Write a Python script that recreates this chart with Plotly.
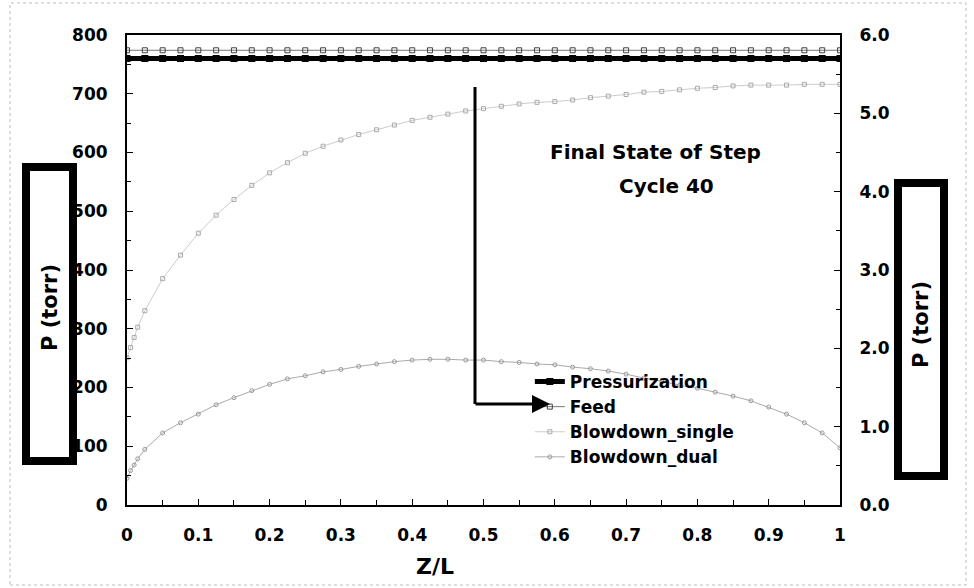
import plotly.graph_objects as go

# ---------------- data ----------------
z_flat = [0.0, 0.025, 0.05, 0.075, 0.1, 0.125, 0.15, 0.175, 0.2, 0.225, 0.25, 0.275, 0.3,
          0.325, 0.35, 0.375, 0.4, 0.425, 0.45, 0.475, 0.5, 0.525, 0.55, 0.575, 0.6, 0.625,
          0.65, 0.675, 0.7, 0.725, 0.75, 0.775, 0.8, 0.825, 0.85, 0.875, 0.9, 0.925, 0.95,
          0.975, 1.0]
pressurization = [760, 760, 760, 760, 760, 760, 760, 760, 760, 760, 760, 760, 760, 760,
                  760, 760, 760, 760, 760, 760, 760, 760, 760, 760, 760, 760, 760, 760,
                  760, 760, 760, 760, 760, 760, 760, 760, 760, 760, 760, 760, 760]
feed = [774, 774, 774, 774, 774, 774, 774, 774, 774, 774, 774, 774, 774, 774,
        774, 774, 774, 774, 774, 774, 774, 774, 774, 774, 774, 774, 774, 774,
        774, 774, 774, 774, 774, 774, 774, 774, 774, 774, 774, 774, 774]

z_bd = [0.0, 0.005, 0.01, 0.015, 0.025, 0.05, 0.075, 0.1, 0.125, 0.15, 0.175, 0.2, 0.225,
        0.25, 0.275, 0.3, 0.325, 0.35, 0.375, 0.4, 0.425, 0.45, 0.475, 0.5, 0.525, 0.55,
        0.575, 0.6, 0.625, 0.65, 0.675, 0.7, 0.725, 0.75, 0.775, 0.8, 0.825, 0.85, 0.875,
        0.9, 0.925, 0.95, 0.975, 1.0]
blowdown_single = [1.88, 2.01, 2.14, 2.27, 2.48, 2.89, 3.19, 3.47, 3.70, 3.90, 4.08, 4.24,
                   4.37, 4.49, 4.58, 4.66, 4.73, 4.79, 4.85, 4.91, 4.95, 4.99, 5.03, 5.06,
                   5.09, 5.12, 5.14, 5.15, 5.17, 5.20, 5.22, 5.24, 5.27, 5.28, 5.30, 5.32,
                   5.33, 5.35, 5.36, 5.36, 5.36, 5.37, 5.37, 5.37]
blowdown_dual = [0.34, 0.44, 0.51, 0.59, 0.71, 0.92, 1.05, 1.16, 1.28, 1.37, 1.46, 1.54,
                 1.61, 1.65, 1.70, 1.73, 1.77, 1.80, 1.83, 1.85, 1.86, 1.86, 1.85, 1.85,
                 1.83, 1.82, 1.80, 1.79, 1.76, 1.74, 1.71, 1.67, 1.62, 1.58, 1.53, 1.49,
                 1.44, 1.39, 1.33, 1.25, 1.16, 1.05, 0.92, 0.73]

left_ticks = [0, 100, 200, 300, 400, 500, 600, 700, 800]
right_ticks = [0, 1, 2, 3, 4, 5, 6]
x_ticks = [0, 0.1, 0.2, 0.3, 0.4, 0.5, 0.6, 0.7, 0.8, 0.9, 1]
x_tick_text = ["0", "0.1", "0.2", "0.3", "0.4", "0.5", "0.6", "0.7", "0.8", "0.9", "1"]

# ---------------- layout geometry ----------------
W, H = 974, 588
ML, MR, MT, MB = 127, 134, 35, 83
PW, PH = W - ML - MR, H - MT - MB
Y_MAX = 800.0


def px(x):
    return (x - ML) / PW


def py(y):
    return (H - MB - y) / PH


FONT = "DejaVu Sans"

fig = go.Figure()
fig.add_trace(go.Scatter(
    x=z_flat, y=pressurization, name="Pressurization", mode="lines+markers",
    line=dict(color="black", width=5),
    marker=dict(symbol="square", size=7, color="black")))
fig.add_trace(go.Scatter(
    x=z_flat, y=feed, name="Feed", mode="lines+markers",
    line=dict(color="#777777", width=1),
    marker=dict(symbol="square-open", size=5, color="#444444", line=dict(width=1))))
fig.add_trace(go.Scatter(
    x=z_bd, y=blowdown_single, name="Blowdown_single", mode="lines+markers", yaxis="y2",
    line=dict(color="#cccccc", width=1),
    marker=dict(symbol="square-open", size=4, color="#aaaaaa", line=dict(width=1))))
fig.add_trace(go.Scatter(
    x=z_bd, y=blowdown_dual, name="Blowdown_dual", mode="lines+markers", yaxis="y2",
    line=dict(color="#aaaaaa", width=1),
    marker=dict(symbol="circle-open", size=4, color="#999999", line=dict(width=1))))

tickfont = dict(family=FONT, size=17, color="black", weight="bold")

fig.update_layout(
    width=W, height=H,
    margin=dict(l=ML, r=MR, t=MT, b=MB, pad=0),
    paper_bgcolor="white", plot_bgcolor="white",
    showlegend=True,
    legend=dict(x=0.565, y=0.30, xanchor="left", yanchor="top",
                bgcolor="rgba(0,0,0,0)", borderwidth=0,
                font=dict(family=FONT, size=17, color="black", weight="bold"),
                itemwidth=30, tracegroupgap=0),
    xaxis=dict(range=[0, 1], tickvals=x_ticks, ticktext=x_tick_text,
               showgrid=False, zeroline=False, showline=True, linecolor="black",
               linewidth=2, mirror=True, ticks="inside", ticklen=6, tickcolor="black",
               minor=dict(dtick=0.05, ticks="inside", ticklen=5, tickcolor="black"),
               tickfont=tickfont, ticklabelstandoff=14),
    yaxis=dict(range=[0, Y_MAX], tickvals=left_ticks, showgrid=False, zeroline=False,
               showline=True, linecolor="black", linewidth=2, ticks="inside",
               ticklen=6, tickcolor="black",
               minor=dict(dtick=50, ticks="inside", ticklen=4, tickcolor="black"),
               tickfont=tickfont, ticklabelstandoff=14),
    yaxis2=dict(range=[0, 6], tickvals=right_ticks, tickformat=".1f", overlaying="y",
                side="right", showgrid=False, zeroline=False, showline=True,
                linecolor="black", linewidth=2, ticks="inside", ticklen=6,
                tickcolor="black",
                minor=dict(dtick=0.5, ticks="inside", ticklen=4, tickcolor="black"),
                tickfont=tickfont, ticklabelstandoff=14),
)

# boxes around the axis titles
fig.add_shape(type="rect", xref="paper", yref="paper",
              x0=px(26), x1=px(73), y0=py(461), y1=py(167),
              line=dict(color="black", width=8), layer="above")
fig.add_shape(type="rect", xref="paper", yref="paper",
              x0=px(898), x1=px(944), y0=py(476), y1=py(183),
              line=dict(color="black", width=8), layer="above")
# faint scan border
fig.add_shape(type="rect", xref="paper", yref="paper",
              x0=px(10), x1=px(966), y0=py(585), y1=py(3),
              line=dict(color="#bbbbbb", width=1, dash="dot"))


def label(text, x, y, size, angle=0):
    fig.add_annotation(text=text, xref="paper", yref="paper", x=px(x), y=py(y),
                       xanchor="center", yanchor="middle", showarrow=False,
                       textangle=angle,
                       font=dict(family=FONT, size=size, color="black", weight="bold"))


# axis titles
label("P (torr)", 50, 308, 21, -90)
label("P (torr)", 921, 325, 21, -90)
label("Z/L", 435, 566, 22)

# in-plot labels
label("Final State of Step", 655, 152, 20)
label("Cycle 40", 666, 186, 20)

# arrow pointing at "Feed"
fig.add_shape(type="line", xref="paper", yref="paper",
              x0=px(475), x1=px(475), y0=py(87), y1=py(404),
              line=dict(color="black", width=3))
fig.add_annotation(x=px(550), y=py(404) * Y_MAX, ax=px(474), ay=py(404) * Y_MAX,
                   xref="x", yref="y", axref="x", ayref="y",
                   showarrow=True, arrowhead=2, arrowsize=1.2, arrowwidth=3,
                   arrowcolor="black", text="")

fig.write_html("out.html")
